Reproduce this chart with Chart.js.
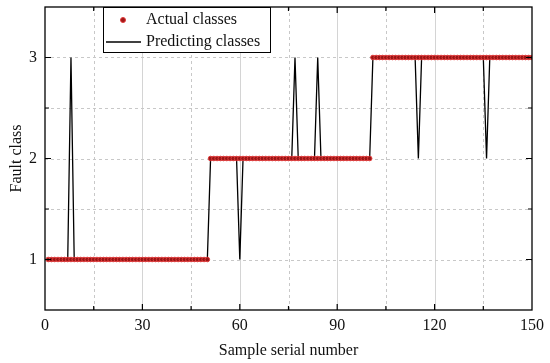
<!DOCTYPE html>
<html>
<head>
<meta charset="utf-8">
<script src="https://cdn.jsdelivr.net/npm/chart.js@4.4.1/dist/chart.umd.min.js"></script>
<style>
  html, body { margin: 0; padding: 0; background: #fff; }
  #wrap { width: 550px; height: 363px; position: relative; }
</style>
</head>
<body>
<div id="wrap"><canvas id="faultChart"></canvas></div>
<script>
// actual class of each sample (1..150)
const actualClasses = [
  1,1,1,1,1,1,1,1,1,1, 1,1,1,1,1,1,1,1,1,1, 1,1,1,1,1,1,1,1,1,1, 1,1,1,1,1,1,1,1,1,1, 1,1,1,1,1,1,1,1,1,1,
  2,2,2,2,2,2,2,2,2,2, 2,2,2,2,2,2,2,2,2,2, 2,2,2,2,2,2,2,2,2,2, 2,2,2,2,2,2,2,2,2,2, 2,2,2,2,2,2,2,2,2,2,
  3,3,3,3,3,3,3,3,3,3, 3,3,3,3,3,3,3,3,3,3, 3,3,3,3,3,3,3,3,3,3, 3,3,3,3,3,3,3,3,3,3, 3,3,3,3,3,3,3,3,3,3
];
// predicted class of each sample (misses at 8, 60, 77, 84, 115, 136)
const predictedClasses = [
  1,1,1,1,1,1,1,3,1,1, 1,1,1,1,1,1,1,1,1,1, 1,1,1,1,1,1,1,1,1,1, 1,1,1,1,1,1,1,1,1,1, 1,1,1,1,1,1,1,1,1,1,
  2,2,2,2,2,2,2,2,2,1, 2,2,2,2,2,2,2,2,2,2, 2,2,2,2,2,2,3,2,2,2, 2,2,2,3,2,2,2,2,2,2, 2,2,2,2,2,2,2,2,2,2,
  3,3,3,3,3,3,3,3,3,3, 3,3,3,3,2,3,3,3,3,3, 3,3,3,3,3,3,3,3,3,3, 3,3,3,3,3,2,3,3,3,3, 3,3,3,3,3,3,3,3,3,3
];
const xLabels = [0, 30, 60, 90, 120, 150];
const yLabels = [1, 2, 3];
const seriesNames = ['Actual classes', 'Predicting classes'];

const serif = '"Liberation Serif", "Times New Roman", serif';

function toPoints(values) {
  return values.map((v, i) => ({ x: i + 1, y: v }));
}

// grid lines, inward ticks, frame and the boxed legend
const framePlugin = {
  id: 'frame',
  beforeDatasetsDraw(chart) {
    const { ctx, chartArea: a, scales: { x, y } } = chart;
    ctx.save();
    ctx.lineWidth = 1;
    for (let v = 15; v < 150; v += 15) {
      const px = Math.round(x.getPixelForValue(v)) + 0.5;
      if (xLabels.includes(v)) {
        ctx.strokeStyle = '#d4d4d4';
        ctx.setLineDash([]);
      } else {
        ctx.strokeStyle = '#c8c8c8';
        ctx.setLineDash([3, 3]);
      }
      ctx.beginPath(); ctx.moveTo(px, a.top); ctx.lineTo(px, a.bottom); ctx.stroke();
    }
    ctx.strokeStyle = '#c8c8c8';
    ctx.setLineDash([3, 3]);
    for (let v = 1; v <= 3; v += 0.5) {
      const py = Math.round(y.getPixelForValue(v)) + 0.5;
      ctx.beginPath(); ctx.moveTo(a.left, py); ctx.lineTo(a.right, py); ctx.stroke();
    }
    ctx.restore();
  },
  afterDatasetsDraw(chart) {
    const { ctx, chartArea: a, scales: { x, y } } = chart;
    ctx.save();
    ctx.strokeStyle = '#000';
    ctx.lineWidth = 1.3;
    ctx.setLineDash([]);
    ctx.strokeRect(a.left, a.top, a.right - a.left, a.bottom - a.top);

    ctx.lineWidth = 1.2;
    for (let v = 15; v < 150; v += 15) {
      const px = x.getPixelForValue(v);
      const len = xLabels.includes(v) ? 6 : 4;
      ctx.beginPath();
      ctx.moveTo(px, a.bottom); ctx.lineTo(px, a.bottom - len);
      ctx.moveTo(px, a.top); ctx.lineTo(px, a.top + len);
      ctx.stroke();
    }
    for (let v = 1; v <= 3; v += 0.5) {
      const py = y.getPixelForValue(v);
      const len = yLabels.includes(v) ? 6 : 4;
      ctx.beginPath();
      ctx.moveTo(a.left, py); ctx.lineTo(a.left + len, py);
      ctx.moveTo(a.right, py); ctx.lineTo(a.right - len, py);
      ctx.stroke();
    }

    // legend box
    const bx = 103, by = 7, bw = 167, bh = 45;
    ctx.fillStyle = '#fff';
    ctx.fillRect(bx, by, bw, bh);
    ctx.lineWidth = 1;
    ctx.strokeStyle = '#000';
    ctx.strokeRect(bx + 0.5, by + 0.5, bw, bh);

    ctx.beginPath();
    ctx.arc(123, 20, 2.5, 0, Math.PI * 2);
    ctx.fillStyle = '#a01818';
    ctx.fill();
    ctx.strokeStyle = '#e03a3a';
    ctx.lineWidth = 1;
    ctx.stroke();

    ctx.beginPath();
    ctx.moveTo(106, 42); ctx.lineTo(141, 42);
    ctx.strokeStyle = '#000';
    ctx.lineWidth = 1.3;
    ctx.stroke();

    ctx.fillStyle = '#111';
    ctx.font = '16px ' + serif;
    ctx.textBaseline = 'middle';
    ctx.textAlign = 'left';
    ctx.fillText(seriesNames[0], 146, 20);
    ctx.fillText(seriesNames[1], 146, 42);
    ctx.restore();
  }
};

const ctx = document.getElementById('faultChart').getContext('2d');
const chart = new Chart(ctx, {
  type: 'line',
  data: {
    datasets: [
      {
        label: seriesNames[0],
        data: toPoints(actualClasses),
        showLine: false,
        pointRadius: 2.3,
        pointBackgroundColor: '#981515',
        pointBorderColor: '#e03a3a',
        pointBorderWidth: 1,
        order: 1,
      },
      {
        label: seriesNames[1],
        data: toPoints(predictedClasses),
        borderColor: '#000',
        borderWidth: 1.3,
        pointRadius: 0,
        tension: 0,
        order: 2,
      },
    ],
  },
  options: {
    responsive: true,
    maintainAspectRatio: false,
    animation: false,
    layout: { padding: { top: 7, right: 18, left: 0, bottom: 0 } },
    plugins: {
      legend: { display: false },
      tooltip: { enabled: false },
    },
    scales: {
      x: {
        type: 'linear',
        min: 0,
        max: 150,
        afterBuildTicks: (scale) => { scale.ticks = xLabels.map((v) => ({ value: v })); },
        afterFit: (scale) => { scale.height = 53; },
        grid: { display: false, drawTicks: false },
        border: { display: false },
        ticks: {
          padding: 6,
          color: '#111',
          font: { family: serif, size: 16 },
          maxRotation: 0,
        },
        title: {
          display: true,
          text: 'Sample serial number',
          color: '#111',
          font: { family: serif, size: 16 },
          padding: { top: 0, bottom: 3 },
        },
      },
      y: {
        type: 'linear',
        min: 0.5,
        max: 3.5,
        afterBuildTicks: (scale) => { scale.ticks = yLabels.map((v) => ({ value: v })); },
        afterFit: (scale) => {
          scale.width = 45;
          scale.paddingTop = 0;
          scale.paddingBottom = 0;
        },
        grid: { display: false, drawTicks: false },
        border: { display: false },
        ticks: {
          padding: 8,
          color: '#111',
          font: { family: serif, size: 16 },
        },
        title: {
          display: true,
          text: 'Fault class',
          color: '#111',
          font: { family: serif, size: 16 },
          padding: { top: 7, bottom: 0 },
        },
      },
    },
  },
  plugins: [framePlugin],
});
</script>
</body>
</html>
